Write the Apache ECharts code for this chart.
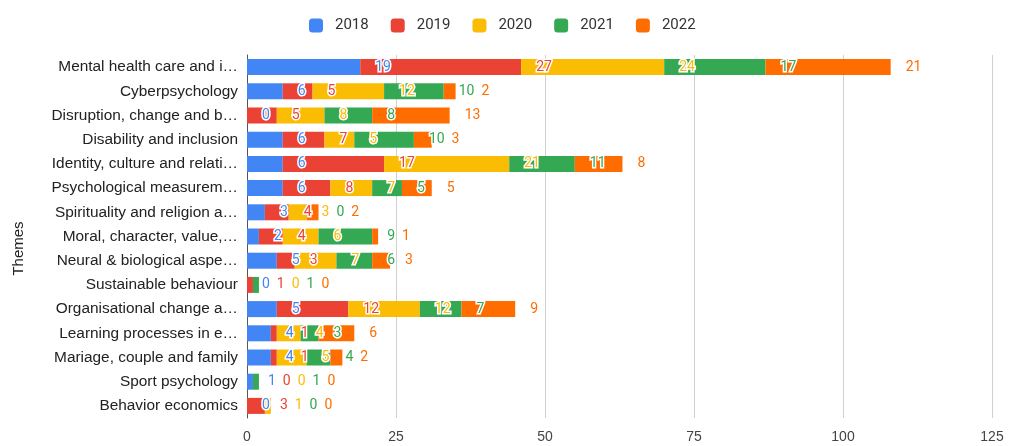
<!DOCTYPE html>
<html>
<head>
<meta charset="utf-8">
<title>Themes by year</title>
<script src="https://cdn.jsdelivr.net/npm/echarts@6/dist/echarts.min.js"></script>
<style>
  html, body { margin: 0; padding: 0; background: #fff; }
  #chart { width: 1009px; height: 446px; }
</style>
</head>
<body>
<div id="chart"></div>
<script>
// categories as they appear (already cut by the source chart)
const themes = [
  'Mental health care and i…',
  'Cyberpsychology',
  'Disruption, change and b…',
  'Disability and inclusion',
  'Identity, culture and relati…',
  'Psychological measurem…',
  'Spirituality and religion a…',
  'Moral, character, value,…',
  'Neural & biological aspe…',
  'Sustainable behaviour',
  'Organisational change a…',
  'Learning processes in e…',
  'Mariage, couple and family',
  'Sport psychology',
  'Behavior economics'
]
const years = ['2018', '2019', '2020', '2021', '2022']
const colors = ['#4285F4', '#EA4335', '#FBBC04', '#34A853', '#FF6D01']

const v2018 = [19, 6, 0, 6, 6, 6, 3, 2, 5, 0, 5, 4, 4, 1, 0]
const v2019 = [27, 5, 5, 7, 17, 8, 4, 4, 3, 1, 12, 1, 1, 0, 3]
const v2020 = [24, 12, 8, 5, 21, 7, 3, 6, 7, 0, 12, 4, 5, 0, 1]
const v2021 = [17, 10, 8, 10, 11, 5, 0, 9, 6, 1, 7, 3, 4, 1, 0]
const v2022 = [21, 2, 13, 3, 8, 5, 2, 1, 3, 0, 9, 6, 2, 0, 0]
const values = [v2018, v2019, v2020, v2021, v2022]

const xTicks = { min: 0, max: 125, interval: 25 }

const LABEL_DIST = 15  // label left edge after the end of its segment
const LABEL_GAP = 7    // min space between two labels of one row
const labelFont = '14px Roboto'

const chart = echarts.init(document.getElementById('chart'))

chart.setOption({
  animation: false,
  legend: {
    data: years,
    top: 13,
    left: 304,
    icon: 'roundRect',
    itemWidth: 14,
    itemHeight: 14,
    itemGap: 22,
    textStyle: { fontFamily: 'Roboto', fontSize: 15, color: '#333', padding: [0, 0, 0, 7] }
  },
  grid: { left: 247, right: 17, top: 55, bottom: 28, outerBoundsMode: 'none' },
  xAxis: {
    type: 'value',
    min: xTicks.min,
    max: xTicks.max,
    interval: xTicks.interval,
    axisLine: { show: false },
    axisTick: { show: false },
    axisLabel: { fontFamily: 'Liberation Sans', fontSize: 14, color: '#444', margin: 12 },
    splitLine: { lineStyle: { color: '#d0d0d0' } }
  },
  yAxis: {
    type: 'category',
    inverse: true,
    data: themes,
    name: 'Themes',
    nameLocation: 'middle',
    nameGap: 221,
    nameTextStyle: { fontFamily: 'Liberation Sans', fontSize: 15, color: '#222', padding: [0, 24, 0, 0] },
    axisTick: { show: false },
    axisLine: { lineStyle: { color: '#555' } },
    axisLabel: { fontFamily: 'Liberation Sans', fontSize: 15.4, color: '#222', margin: 9 }
  },
  series: years.map((y, s) => ({
    name: y,
    type: 'bar',
    stack: 'total',
    barWidth: 16,
    color: colors[s],
    label: {
      show: true,
      position: 'right',
      distance: LABEL_DIST,
      fontFamily: 'Roboto',
      fontSize: 14,
      color: colors[s],
      textBorderColor: '#fff',
      textBorderWidth: 3
    },
    data: values[s]
  }))
})

// push labels of a row right when they would run into each other
const ctx = document.createElement('canvas').getContext('2d')
ctx.font = labelFont
const shifts = years.map(() => [])
themes.forEach((t, i) => {
  let prevRight = -Infinity
  let cum = 0
  years.forEach((y, s) => {
    cum += values[s][i]
    const end = chart.convertToPixel({ xAxisIndex: 0 }, cum)
    const left = end + LABEL_DIST
    const w = ctx.measureText(String(values[s][i])).width
    const x = Math.max(left, prevRight + LABEL_GAP)
    shifts[s][i] = x - left
    prevRight = x + w
  })
})

chart.setOption({
  series: years.map((y, s) => ({
    data: values[s].map((v, i) => ({ value: v, label: { offset: [shifts[s][i], 0] } }))
  }))
})
</script>
</body>
</html>
